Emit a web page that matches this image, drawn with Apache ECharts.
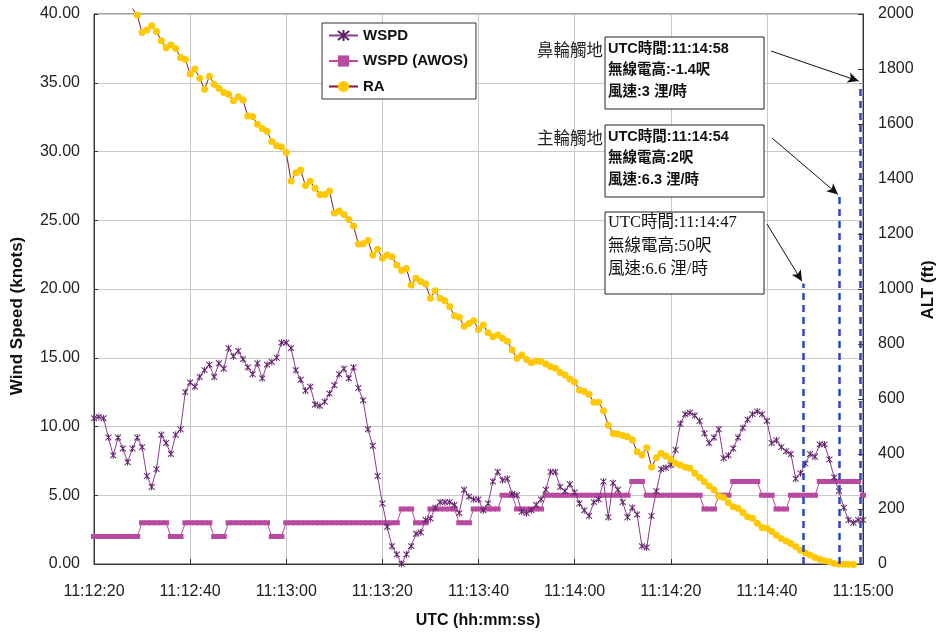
<!DOCTYPE html>
<html>
<head>
<meta charset="utf-8">
<script src="https://cdn.jsdelivr.net/npm/echarts@6/dist/echarts.min.js"></script>
<style>
html,body{margin:0;padding:0;background:#fff;}
#chart{width:945px;height:639px;}
</style>
</head>
<body>
<div id="chart"></div>
<script>
// x axis: seconds after 11:12:20
const xTickLabels = ['11:12:20','11:12:40','11:13:00','11:13:20','11:13:40','11:14:00','11:14:20','11:14:40','11:15:00'];

// WSPD (knots), one sample per second starting at 11:12:20
const wspdStart = 0;
const wspd = [
  10.6,10.7,10.6,9.2,7.9,9.2,8.4,7.4,8.4,9.2,
  8.5,6.4,5.6,6.9,9.4,8.8,8.0,9.4,9.8,12.5,
  13.2,12.9,13.6,14.1,14.5,13.6,14.6,14.2,15.7,15.1,
  15.5,14.9,14.3,13.8,14.6,13.5,14.5,14.7,15.0,16.1,
  16.1,15.7,14.1,13.4,12.6,12.9,11.6,11.5,11.8,12.4,
  13.0,13.8,14.2,13.5,14.3,12.8,11.9,9.8,8.6,6.4,
  4.4,2.7,1.3,0.7,0.0,0.7,1.3,2.2,2.3,3.2,
  3.3,4.1,4.5,4.5,4.5,4.3,3.7,5.4,4.9,4.7,
  4.7,3.9,4.4,6.0,6.7,6.1,6.2,5.1,5.0,3.8,
  3.7,3.9,4.3,4.7,5.4,6.7,6.7,5.6,5.3,5.8,
  5.2,4.4,3.9,3.5,4.5,4.7,6.0,3.4,5.9,5.4,
  4.5,3.4,4.1,3.6,1.3,1.2,3.5,5.3,6.9,7.0,
  7.2,8.3,10.2,10.9,11.0,10.8,10.4,9.5,8.8,9.2,
  9.8,7.7,7.9,8.4,9.2,9.9,10.5,10.9,11.1,10.9,
  10.4,8.8,9.0,8.5,8.2,8.0,6.2,6.6,7.3,8.0,
  7.8,8.7,8.7,7.6,6.3,5.3,4.1,3.2,3.0,3.2,
  3.2
];

// WSPD (AWOS) (knots), one sample per second starting at 11:12:20
const awosStart = 0;
const awos = [
  2,2,2,2,2,2,2,2,2,2,
  3,3,3,3,3,3,2,2,2,3,
  3,3,3,3,3,2,2,2,3,3,
  3,3,3,3,3,3,3,2,2,2,
  3,3,3,3,3,3,3,3,3,3,
  3,3,3,3,3,3,3,3,3,3,
  3,3,3,3,4,4,4,3,3,3,
  4,4,4,4,4,4,3,3,3,4,
  4,4,4,4,4,5,5,5,4,4,
  4,4,4,4,5,5,5,5,5,5,
  5,5,5,5,5,5,5,5,5,5,
  5,5,6,6,6,5,5,5,5,5,
  5,5,5,5,5,5,5,4,4,4,
  5,5,5,6,6,6,6,6,6,5,
  5,5,4,4,4,5,5,5,5,5,
  5,6,6,6,6,6,6,6,6,6,
  5
];

// RA (ft), one sample per second starting at 11:12:28
const raStart = 8;
const ra = [
  2020,1996,
  1933,1942,1957,1936,1903,1877,1887,1875,1842,1835,
  1782,1800,1766,1726,1774,1745,1730,1715,1708,1685,
  1699,1687,1629,1627,1599,1584,1574,1536,1521,1516,
  1496,1393,1423,1433,1376,1392,1366,1344,1344,1356,
  1276,1284,1271,1253,1229,1164,1165,1176,1124,1145,
  1112,1124,1117,1087,1067,1075,1015,1039,1027,1018,
  966,994,966,957,936,903,897,865,875,885,
  853,869,841,826,833,821,810,778,748,760,
  744,732,738,736,727,717,712,696,687,673,
  662,633,627,616,588,588,557,505,475,473,
  467,463,451,408,396,423,353,386,403,393,
  381,366,360,352,348,330,315,299,284,269,
  247,242,223,208,203,187,172,166,148,133,
  130,118,105,93,84,75,63,50,41,33,
  24,17,12,8,2,0,-1,-1,-1.4
];

// event markers (dashed lines): time (s after 11:12:20) and top altitude (ft)
const eventTimes = [147.6, 155.1, 159.4];
const eventTops = [1020, 1336, 1748];
const eventUTC = ['11:14:47', '11:14:54', '11:14:58'];
const eventRA = ['50', '2', '-1.4'];
const eventWS = ['6.6', '6.3', '3'];
const eventNames = ['', '主輪觸地', '鼻輪觸地'];

const toXY = (arr, start) => arr.map((v, i) => [start + i, v]);

// RA: the first sample lies above the axis maximum; draw its line segment only
const raData = toXY(ra, raStart).map((p) => p[1] > 2000 ? {value:p, symbol:'none'} : p);

// annotation boxes layout (pixels)
const boxes = [
  {x:605, y:212, w:159, h:82, serif:true, ax:767, ay:224},
  {x:605, y:125, w:159, h:72, serif:false, ax:772, ay:138},
  {x:605, y:37,  w:159, h:72, serif:false, ax:771, ay:51}
];

const graphic = [];
boxes.forEach((b, i) => {
  graphic.push({type:'rect', z:100, shape:{x:b.x, y:b.y, width:b.w, height:b.h},
    style:{fill:'#fff', stroke:'#222', lineWidth:1}});
  const lines = ['UTC時間:' + eventUTC[i], '無線電高:' + eventRA[i] + '呎', '風速:' + eventWS[i] + ' 浬/時'];
  const lh = b.serif ? 23.5 : 21.5;
  const y0 = b.y + (b.serif ? 11 : 11.5);
  lines.forEach((t, k) => {
    graphic.push({type:'text', z:101, x:b.x + 3, y:y0 + k * lh,
      style:{text:t, fill:'#111', verticalAlign:'middle', align:'left',
        fontSize: b.serif ? 16.5 : 14.5,
        fontWeight: b.serif ? 'normal' : 'bold',
        fontFamily: b.serif ? '"Liberation Serif","Noto Sans CJK TC",serif' : '"Liberation Sans","Noto Sans CJK TC",sans-serif'}});
  });
  if (eventNames[i]) {
    graphic.push({type:'text', z:101, x:b.x - 2, y:y0 + 1,
      style:{text:eventNames[i], fill:'#222', align:'right', verticalAlign:'middle',
        fontSize:16.5, fontFamily:'"Noto Sans CJK TC",sans-serif'}});
  }
});
// axis titles
graphic.push({type:'text', x:17, y:316, rotation:Math.PI/2,
  style:{text:'Wind Speed (knots)', align:'center', verticalAlign:'middle', fill:'#111',
    fontSize:17, fontWeight:'bold', fontFamily:'"Liberation Sans",Arial,sans-serif'}});
graphic.push({type:'text', x:928, y:290, rotation:Math.PI/2,
  style:{text:'ALT (ft)', align:'center', verticalAlign:'middle', fill:'#111',
    fontSize:17, fontWeight:'bold', fontFamily:'"Liberation Sans",Arial,sans-serif'}});
graphic.push({type:'text', x:478, y:621,
  style:{text:'UTC (hh:mm:ss)', align:'center', verticalAlign:'middle', fill:'#111',
    fontSize:16, fontWeight:'bold', fontFamily:'"Liberation Sans",Arial,sans-serif'}});

const markData = [];
eventTimes.forEach((t, i) => {
  markData.push([
    {coord:[t, 0], symbol:'none', lineStyle:{color:'#2f45c0', type:[7,5], width:2.5}},
    {coord:[t, eventTops[i]], symbol:'none'}
  ]);
});
eventTimes.forEach((t, i) => {
  markData.push([
    {x:boxes[i].ax, y:boxes[i].ay, symbol:'none', lineStyle:{color:'#111', type:'solid', width:1}},
    {coord:[t - 0.3, eventTops[i] + 8], symbol:'arrow', symbolSize:[8,11]}
  ]);
});

const FONT = '"Liberation Sans",Arial,sans-serif';
const chart = echarts.init(document.getElementById('chart'), null, {renderer:'canvas'});
chart.setOption({
  animation:false,
  backgroundColor:'#fff',
  grid:{left:94, right:82, top:14, bottom:75, show:true, borderColor:'#444', borderWidth:1, backgroundColor:'transparent'},
  legend:{
    data:['WSPD','WSPD (AWOS)','RA'],
    orient:'vertical', left:322, top:23,
    itemWidth:29, itemHeight:14, itemGap:10.5,
    padding:[5, 8, 5, 6],
    borderColor:'#333', borderWidth:1, backgroundColor:'#fff',
    textStyle:{fontFamily:FONT, fontWeight:'bold', fontSize:15, color:'#111'}
  },
  xAxis:{
    type:'value', min:0, max:160, interval:20,
    axisLine:{show:true, lineStyle:{color:'#333'}},
    axisTick:{show:true, inside:true, length:5, lineStyle:{color:'#333'}},
    splitLine:{show:true, lineStyle:{color:'#c8c8c8', width:1}},
    axisLabel:{margin:20, fontSize:16, color:'#222', fontFamily:FONT,
      formatter:(v) => xTickLabels[Math.round(v / 20)]}
  },
  yAxis:[
    {type:'value', min:0, max:40, interval:5, position:'left',
      axisLine:{show:true, lineStyle:{color:'#333'}},
      axisTick:{show:true, inside:true, length:4, lineStyle:{color:'#333'}},
      splitLine:{show:true, lineStyle:{color:'#c8c8c8', width:1}},
      axisLabel:{margin:14, fontSize:16, color:'#222', fontFamily:FONT, formatter:(v) => v.toFixed(2)}},
    {type:'value', min:0, max:2000, interval:200, position:'right',
      axisLine:{show:true, lineStyle:{color:'#333'}},
      axisTick:{show:true, inside:true, length:5, lineStyle:{color:'#333'}},
      splitLine:{show:false},
      axisLabel:{margin:15, fontSize:16, color:'#222', fontFamily:FONT, formatter:(v) => String(v)}}
  ],
  series:[
    {name:'WSPD (AWOS)', type:'line', yAxisIndex:0, data:toXY(awos, awosStart),
      symbol:'rect', symbolSize:[6,5], showSymbol:true,
      lineStyle:{color:'#b84aa0', width:1}, itemStyle:{color:'#b84aa0'}, z:2},
    {name:'WSPD', type:'line', yAxisIndex:0, data:toXY(wspd, wspdStart),
      symbol:'path://M0,-5L0,5M-4.5,-4L4.5,4M-4.5,4L4.5,-4', symbolSize:[6,7], showSymbol:true,
      lineStyle:{color:'#8a3b8c', width:1},
      itemStyle:{color:'#5e1f68', borderColor:'#5e1f68', borderWidth:1}, z:3},
    {name:'RA', type:'line', yAxisIndex:1, data:raData, clip:false,
      symbol:'circle', symbolSize:7, showSymbol:true,
      lineStyle:{color:'#7a1f24', width:1}, itemStyle:{color:'#ffc800'}, z:4,
      markLine:{silent:true, animation:false, symbol:['none','none'], label:{show:false},
        emphasis:{disabled:true}, data:markData}}
  ],
  graphic:graphic
});
</script>
</body>
</html>
